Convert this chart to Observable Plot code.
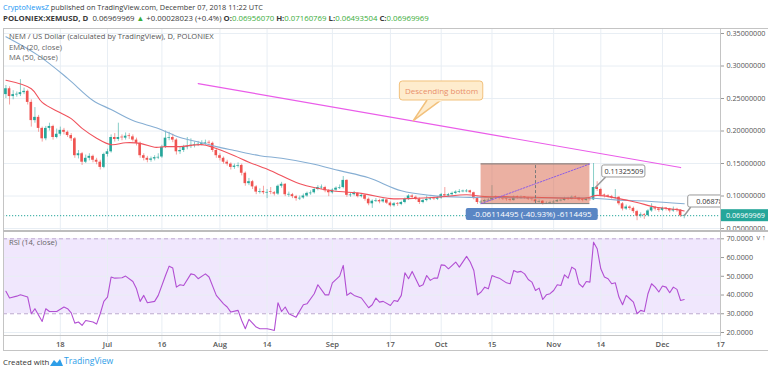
<!DOCTYPE html>
<html><head><meta charset="utf-8">
<script src="https://cdn.jsdelivr.net/npm/d3@7"></script>
<script src="https://cdn.jsdelivr.net/npm/@observablehq/plot@0.6"></script>
<style>
body{margin:0;background:#fff;}
#wrap{position:relative;width:768px;height:373px;overflow:hidden;font-family:"Open Sans",sans-serif;color:#4a4a4a;}
.t{position:absolute;white-space:nowrap;font-size:7.6px;line-height:10px;}
.g{color:#3aad3a;}
.ln{position:absolute;background:#c4c4c4;}
#price,#rsi{position:absolute;left:0;}
</style></head><body>
<div id="wrap">
  <div class="t" style="left:3px;top:2px;color:#3a3a3a;font-size:7.35px"><span style="color:#2196f3">CryptoNewsZ</span> published on TradingView.com, December 07, 2018 11:22 UTC</div>
  <div class="t" style="left:3px;top:13px;color:#3a3a3a;font-size:7.8px"><b>POLONIEX:XEMUSD, D</b>&nbsp; 0.06969969 <span class="g">▲</span> +0.00028023 (+0.4%) <b>O:</b><span class="g">0.06956070</span> <b>H:</b><span class="g">0.07160769</span> <b>L:</b><span class="g">0.06493504</span> <b>C:</b><span class="g">0.06969969</span></div>
  <div id="price" style="top:29px"></div>
  <div id="rsi" style="top:231px"></div>
  <div class="ln" style="left:3px;top:28px;width:765px;height:1px"></div>
  <div class="ln" style="left:3px;top:28px;width:1px;height:323px"></div>
  <div class="ln" style="left:3px;top:350px;width:765px;height:1px"></div>
  <div class="ln" style="left:720px;top:28px;width:1px;height:308px"></div>
  <div class="ln" style="left:3px;top:230px;width:765px;height:2px;background:#bdbdbd"></div>
  <div class="ln" style="left:3px;top:335px;width:718px;height:1px"></div>
  <div class="t" style="left:9px;top:31px;color:#555">NEM / US Dollar (calculated by TradingView), D, POLONIEX</div>
  <div class="t" style="left:9px;top:42px;color:#666">EMA (20, close)</div>
  <div class="t" style="left:9px;top:52px;color:#666">MA (50, close)</div>
  <div class="t" style="left:9px;top:237px;color:#666">RSI (14, close)</div>
  <div class="t" style="left:3px;top:357px;color:#333;font-size:7.8px">Created with</div>
  <svg style="position:absolute;left:49px;top:357px" width="15" height="10" viewBox="0 0 15 10"><path d="M1 9 L5 3 L8 6 L11 2 L14 9 Z" fill="#2e9ee8"/></svg>
  <div class="t" style="left:64px;top:356px;color:#2e9ee8;font-size:8.6px">TradingView</div>
</div>
<script>
// ---------------- data ----------------
const firstDay = [2018, 5, 3]; // 2018-06-03, one candle per day
const firstOpen = 0.256;
const closes = [
.265,.253,.256,.256,.259,.261,.244,.216,.221,.204,
.188,.204,.207,.19,.195,.201,.198,.193,.188,.162,
.165,.152,.158,.161,.155,.152,.144,.164,.168,.19,
.187,.19,.189,.192,.191,.186,.181,.162,.158,.155,
.157,.159,.16,.175,.189,.19,.186,.168,.17,.175,
.176,.178,.179,.18,.181,.182,.181,.17,.162,.158,
.152,.149,.144,.146,.147,.135,.119,.122,.114,.106,
.107,.105,.106,.105,.103,.115,.118,.102,.102,.099,
.096,.097,.1,.104,.105,.11,.113,.113,.108,.105,
.109,.112,.113,.124,.101,.102,.104,.099,.101,.095,
.088,.092,.093,.091,.094,.089,.085,.088,.087,.09,
.095,.1,.098,.095,.09,.093,.095,.096,.095,.097,
.102,.1,.102,.104,.106,.107,.107,.108,.105,.096,
.09,.091,.093,.094,.098,.097,.096,.095,.094,.093,
.098,.097,.098,.097,.095,.094,.091,.092,.088,.089,
.09,.091,.093,.093,.096,.095,.098,.097,.094,.093,
.095,.094,.113,.11,.101,.1,.099,.097,.098,.088,
.08,.083,.081,.076,.069,.071,.07,.077,.082,.08,
.078,.081,.08,.077,.079,.078,.06942,.06969969];
const highs = [
.27,.268,.262,.26,.279,.266,.263,.248,.236,.224,
.206,.207,.212,.209,.203,.206,.204,.2,.196,.19,
.17,.167,.163,.165,.163,.158,.155,.166,.172,.194,
.196,.212,.194,.197,.196,.194,.189,.183,.165,.161,
.16,.162,.165,.178,.2,.198,.195,.188,.175,.178,
.19,.188,.183,.184,.185,.186,.185,.183,.172,.165,
.16,.155,.151,.149,.151,.149,.137,.127,.124,.116,
.111,.115,.11,.113,.107,.117,.121,.119,.106,.104,
.101,.1,.103,.106,.108,.112,.116,.117,.115,.11,
.111,.114,.117,.13,.125,.105,.107,.105,.103,.102,
.097,.094,.096,.095,.096,.095,.091,.09,.09,.092,
.097,.102,.102,.1,.097,.095,.1,.098,.098,.099,
.104,.113,.104,.106,.108,.11,.109,.11,.109,.106,
.098,.093,.095,.096,.116,.1,.099,.098,.097,.096,
.1,.1,.1,.099,.098,.097,.095,.094,.093,.091,
.092,.093,.095,.095,.098,.098,.1,.1,.098,.096,
.097,.097,.15,.122,.112,.103,.102,.101,.11,.099,
.09,.086,.085,.083,.078,.074,.073,.079,.088,.084,
.082,.083,.082,.081,.083,.081,.079,.07160769];
const lows = [
.25,.24,.248,.252,.253,.256,.24,.206,.212,.198,
.183,.185,.2,.186,.188,.192,.194,.19,.184,.158,
.157,.147,.15,.154,.151,.148,.14,.142,.16,.166,
.183,.184,.185,.186,.187,.183,.177,.158,.154,.151,
.152,.154,.156,.158,.173,.185,.182,.163,.164,.167,
.171,.173,.174,.176,.177,.178,.177,.167,.158,.154,
.149,.146,.14,.141,.143,.131,.115,.116,.11,.102,
.103,.102,.096,.102,.1,.101,.112,.099,.098,.096,
.092,.093,.095,.098,.101,.103,.108,.11,.105,.099,
.103,.107,.11,.111,.098,.098,.1,.097,.097,.092,
.085,.081,.09,.088,.089,.087,.083,.083,.084,.085,
.088,.093,.095,.093,.087,.088,.091,.093,.093,.093,
.095,.098,.098,.1,.102,.104,.105,.105,.103,.094,
.087,.088,.089,.091,.092,.095,.094,.093,.092,.091,
.092,.095,.095,.095,.093,.092,.089,.089,.086,.087,
.087,.088,.09,.091,.092,.093,.094,.095,.092,.091,
.092,.092,.093,.107,.099,.097,.097,.095,.095,.085,
.077,.078,.078,.073,.062,.066,.064,.068,.075,.077,
.075,.076,.077,.074,.075,.075,.067,.06493504];
// EMA(20) and MA(50) (day offset from first candle, value)
const emaDay = [0,7,10,15,18,21,25,29,33,37,41,44,48,54,57,63,67,73,81,90,98,106,111,119,127,132,137,146,160,163,169,174,179,185,187];
const emaVal = [.278,.265,.244,.228,.219,.204,.189,.179,.182,.181,.175,.176,.176,.179,.175,.162,.152,.139,.119,.108,.104,.096,.096,.098,.102,.099,.099,.098,.097,.101,.096,.09,.083,.079,.077];
const maDay = [0,9,17,24,29,35,42,48,54,58,63,70,76,84,92,100,109,117,126,132,145,161,168,177,187];
const maVal = [.345,.316,.281,.247,.233,.216,.204,.19,.182,.176,.17,.162,.158,.15,.139,.128,.108,.101,.098,.098,.097,.097,.094,.092,.088];
// RSI(14)
const rsiDay = [0,1,3,4,6,7,8,10,11,12,14,16,17,18,19,20,21,22,24,25,26,27,28,29,30,32,33,35,36,37,38,39,41,42,44,45,46,47,48,49,51,52,53,55,56,58,60,61,62,64,65,66,67,69,70,72,73,74,75,76,77,78,80,82,83,85,86,88,89,90,92,93,94,95,96,98,100,101,102,103,104,106,107,108,109,110,111,112,114,115,116,117,118,119,120,121,122,124,125,127,128,129,130,131,132,133,134,135,136,138,139,140,141,142,143,144,145,146,147,148,149,150,151,152,153,154,155,156,157,158,159,160,161,162,163,164,165,166,167,168,169,170,171,172,173,174,175,176,177,178,179,180,181,182,183,184,185,186,187];
const rsiVal = [42,38.4,39.4,40.1,38.9,30,32.7,25.9,32.7,31.2,31.2,33.6,32.7,30.5,25,25.6,23.8,26.4,25.6,24.5,30,36.6,38.9,49.6,49,49.2,50.1,47.2,43.3,36.6,39.8,35.9,36.6,39.8,50.4,55.4,54.4,44.2,45.5,45.1,51.3,50.8,48.7,51.3,49.6,39.8,35.3,33.6,30.9,31.8,26.4,22,27,22.9,22,22,21.6,21.1,35.9,31.2,33.6,30,28.2,34.8,35.3,40.7,45.5,40.1,40.1,46.5,50.1,55.8,39.8,41.2,39.8,38.4,33.2,34.8,38.4,36.2,36.6,34.4,37.1,36.6,39.8,51.9,48.7,52.6,44.6,45.5,50.4,47.8,49,49,56.1,55.8,54,57.6,54.9,60.6,57.6,53.1,40.1,41.6,44.2,43.3,50.4,49.6,49,46.5,46,53.1,52.2,52.6,51.3,48.3,46.9,42.4,43.7,37.6,40.1,40.7,42.4,45.5,45.1,50.8,49,54.9,53.6,46,44.2,47.2,46.9,68.2,64.7,54,49.6,48.7,46,46.5,38.9,34.8,39.8,38,36.2,30,31.8,31.2,40.7,46,44.2,41.6,44.8,44.2,41.2,44.2,43,37.1,37.6];
const priceTicks = [0.05,0.10,0.15,0.20,0.25,0.30,0.35];
const rsiTicks = [20,30,40,50,60,70];
const timeTicks = ["2018-06-18","2018-07-01","2018-07-16","2018-08-01","2018-08-14","2018-09-01","2018-09-17","2018-10-01","2018-10-15","2018-11-01","2018-11-14","2018-12-01","2018-12-17"];
const timeLabels = ["18","Jul","16","Aug","14","Sep","17","Oct","15","Nov","14","Dec","17"];
const lastPrice = 0.06969969;
// drawings
const trendDay = [53,186], trendVal = [0.273,0.1438];
const measureDay = [131,161], measureVal = [0.0883,0.1494];
const measureText = "-0.06114495 (-40.93%) -6114495";
const noteText = "Descending bottom";
const calloutHigh = "0.11325509", calloutLast = "0.06878638";

// ---------------- helpers ----------------
const day = i => new Date(Date.UTC(firstDay[0], firstDay[1], firstDay[2]) + i * 864e5);
const candles = closes.map((c, i) => ({date: day(i), open: i ? closes[i-1] : firstOpen, close: c, high: highs[i], low: lows[i]}));
const minBody = 0.0011;
candles.forEach(d => { d.top = Math.abs(d.close - d.open) < minBody ? d.open + minBody/2 : d.close; d.bot = Math.abs(d.close - d.open) < minBody ? d.open - minBody/2 : d.open; d.x1 = new Date(+d.date - 0.36*864e5); d.x2 = new Date(+d.date + 0.36*864e5); });
const up = candles.filter(d => d.close >= d.open), dn = candles.filter(d => d.close < d.open);
const ema = emaDay.map((d,i) => ({date: day(d), v: emaVal[i]}));
const ma = maDay.map((d,i) => ({date: day(d), v: maVal[i]}));
const rsi = rsiDay.map((d,i) => ({date: day(d), v: rsiVal[i]}));
const ticks = timeTicks.map(s => new Date(s + "T00:00:00Z"));
const labelOf = new Map(ticks.map((d,i) => [+d, timeLabels[i]]));
const xDomain = [new Date(Date.UTC(2018,5,2,8)), new Date(Date.UTC(2018,11,17))];
const UP = "#26a69a", DN = "#ef5350", GRID = "#e8eef4";
const font = {fontFamily: "'Open Sans', sans-serif", fontSize: "7.2px", color: "#4a4a4a", background: "transparent", overflow: "visible"};

// ---------------- price pane ----------------
const trend = trendDay.map((d,i) => ({date: day(d), v: trendVal[i]}));
const mBox = [{x1: day(measureDay[0]), x2: day(measureDay[1]) , y1: measureVal[0], y2: measureVal[1]}];
const mMid = day((measureDay[0]+measureDay[1])/2);
const diag = [{date: day(measureDay[0]), v: measureVal[0]}, {date: day(measureDay[1]), v: measureVal[1]}];
const price = Plot.plot({
  width: 768, height: 202, marginLeft: 3, marginRight: 48, marginTop: 0, marginBottom: 0,
  style: font,
  x: {type: "utc", domain: xDomain, range: [3, 720], axis: null},
  y: {domain: [0.05, 0.35], range: [199, 4], axis: null},
  marks: [
    Plot.ruleX(ticks, {stroke: GRID}),
    Plot.ruleY(priceTicks, {stroke: GRID}),
    Plot.ruleY([lastPrice], {stroke: UP, strokeDasharray: "1.2,1.8", strokeWidth: 1}),
    Plot.ruleX(up, {x: "date", y1: "low", y2: "high", stroke: UP, strokeOpacity: 0.55}),
    Plot.ruleX(dn, {x: "date", y1: "low", y2: "high", stroke: DN, strokeOpacity: 0.55}),
    Plot.rect(up, {x1: "x1", x2: "x2", y1: "bot", y2: "top", fill: UP}),
    Plot.rect(dn, {x1: "x1", x2: "x2", y1: "bot", y2: "top", fill: DN}),
    Plot.line(ma, {x: "date", y: "v", stroke: "#86aed3", strokeWidth: 1.1, curve: "catmull-rom"}),
    Plot.line(ema, {x: "date", y: "v", stroke: "#f0525c", strokeWidth: 1.1, curve: "catmull-rom"}),
    Plot.line(trend, {x: "date", y: "v", stroke: "#ea5ce9", strokeWidth: 1.2}),
    // measurement tool
    Plot.rect(mBox, {x1: "x1", x2: "x2", y1: "y1", y2: "y2", fill: "#d9674d", fillOpacity: 0.52}),
    Plot.ruleY(mBox, {x1: "x1", x2: "x2", y: "y1", stroke: "#7a7a7a"}),
    Plot.ruleY(mBox, {x1: "x1", x2: "x2", y: "y2", stroke: "#7a7a7a"}),
    Plot.ruleX([mMid], {y1: measureVal[0], y2: measureVal[1], stroke: "#7a7a7a", strokeDasharray: "3,2"}),
    Plot.line(diag, {x: "date", y: "v", stroke: "#8c5ee6", strokeDasharray: "1.5,1.5", strokeWidth: 1}),
    Plot.rect([0], {x1: day(126.9), x2: day(163.3), y1: 0.0622, y2: 0.0808, fill: "#5a86c4", rx: 2}),
    Plot.text([measureText], {x: day(145.1), y: 0.0715, fill: "#fff", fontSize: 8}),
    // "Descending bottom" note
    Plot.line([{d:116.2,v:0.2485},{d:112.3,v:0.216},{d:120.2,v:0.2485}], {x: d => day(d.d), y: "v", fill: "#feeccd", stroke: "#f2c17c"}),
    Plot.rect([0], {x1: day(108.6), x2: day(131.6), y1: 0.2469, y2: 0.2762, fill: "#feeccd", stroke: "#f2c17c", rx: 3}),
    Plot.line([{d:116.4,v:0.2466},{d:120,v:0.2466}], {x: d => day(d.d), y: "v", stroke: "#feeccd", strokeWidth: 1.5}),
    Plot.text([noteText], {x: day(120.1), y: 0.2615, fill: "#e98f6b", fontSize: 8}),
    // price callouts
    Plot.line([{d:165.2,v:0.1285},{d:162.5,v:0.113}], {x: d => day(d.d), y: "v", stroke: "#9a9a9a"}),
    Plot.rect([0], {x1: day(164.4), x2: day(176.3), y1: 0.1285, y2: 0.147, fill: "#fff", stroke: "#9a9a9a", rx: 2}),
    Plot.text([calloutHigh], {x: day(170.35), y: 0.1377, fill: "#333", fontSize: 7.2}),
    Plot.line([{d:188.7,v:0.0823},{d:187.1,v:0.0705}], {x: d => day(d.d), y: "v", stroke: "#9a9a9a"}),
    Plot.rect([0], {x1: day(188.1), x2: day(199.5), y1: 0.0823, y2: 0.1008, fill: "#fff", stroke: "#9a9a9a", rx: 2, clip: "frame"}),
    Plot.text([calloutLast], {x: day(190.3), y: 0.0915, fill: "#333", fontSize: 7.2, textAnchor: "start", clip: "frame"}),
    Plot.axisY(priceTicks, {anchor: "right", tickFormat: d => d.toFixed(8), tickSize: 3, tickPadding: 3, stroke: "#999", fill: "#555", fontSize: 7.2})
  ]
});
document.getElementById("price").append(price);
// current price badge on the axis, positioned with the plot's own y scale
{
  const ys = price.scale("y");
  const y = ys.apply(lastPrice);
  const svg = d3.select(price);
  svg.append("rect").attr("x", 721).attr("y", y - 6).attr("width", 47).attr("height", 12).attr("fill", UP);
  svg.append("text").attr("x", 726).attr("y", y).attr("dy", "0.34em").attr("text-anchor", "start").attr("fill", "#fff").attr("font-size", 7.2).text(lastPrice.toFixed(8));
}

// ---------------- RSI pane ----------------
const rsiPlot = Plot.plot({
  width: 768, height: 119, marginLeft: 3, marginRight: 48, marginTop: 0, marginBottom: 14,
  style: font,
  x: {type: "utc", domain: xDomain, range: [3, 720]},
  y: {domain: [20, 70], range: [101, 7.3], axis: null},
  marks: [
    Plot.rect([0], {x1: xDomain[0], x2: xDomain[1], y1: 30, y2: 70, fill: "#8e44f0", fillOpacity: 0.13}),
    Plot.ruleX(ticks, {y1: 20, y2: 70, stroke: GRID}),
    Plot.ruleX(ticks, {y1: 14.6, y2: 20, stroke: GRID}),
    Plot.ruleY([20, 40, 50, 60], {stroke: GRID}),
    Plot.ruleY([30, 70], {stroke: "#bca9cf", strokeDasharray: "4,3"}),
    Plot.line(rsi, {x: "date", y: "v", stroke: "#b24fd3", strokeWidth: 1.1}),
    Plot.axisY(rsiTicks, {anchor: "right", tickFormat: d => d.toFixed(4), tickSize: 3, tickPadding: 3, stroke: "#999", fill: "#555", fontSize: 7.2}),
    Plot.axisX(ticks, {tickFormat: d => labelOf.get(+d), tickSize: 0, tickPadding: 5, fill: "#555", fontSize: 7.6, fontWeight: 600})
  ]
});
document.getElementById("rsi").append(rsiPlot);
</script>
</body></html>
